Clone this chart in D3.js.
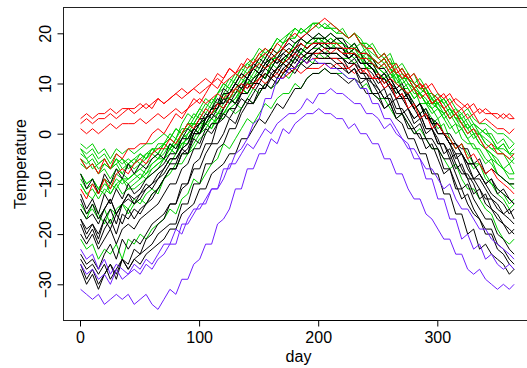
<!DOCTYPE html>
<html><head><meta charset="utf-8">
<script src="https://cdn.jsdelivr.net/npm/d3@7"></script>
<style>body{margin:0;background:#fff}svg{display:block}text{font-family:"Liberation Sans",Arial,Helvetica,sans-serif}</style>
</head><body><svg id="c" width="527" height="368"></svg>
<script>
// day grid (every 5 days, plus last day)
const days = d3.range(0.5, 361, 5).concat([364.5]);
const xTicks = [0, 100, 200, 300];
const yTicks = [-30, -20, -10, 0, 10, 20];
const regionColors = {Atlantic: "#00cd00", Continental: "#000000", Pacific: "#ff0000", Arctic: "#6f1fff"};

// Atlantic
const stJohns = [-3,-4,-3,-5,-4,-6,-4,-5,-6,-5, -4,-5,-3,-4,-2,-3,-2,0,-1,-1, 1,2,1,3,3,5,4,5,7,6, 8,10,9,10,12,11,13,14,15,14, 16,15,16,16,15,15,14,15,13,13, 12,11,12,10,9,9,7,8,6,6, 5,4,5,3,3,1,2,1,0,0, -2,-1,-3,-2];
const halifax = [-4,-5,-7,-6,-5,-7,-6,-5,-7,-6, -4,-5,-3,-4,-2,-1,-2,0,1,2, 2,3,5,4,6,7,9,8,10,11, 12,11,14,13,15,16,17,16,18,18, 19,18,19,18,18,17,18,16,17,15, 14,15,13,12,11,12,10,9,8,8, 6,7,5,4,3,4,2,1,0,-1, -3,-2,-4,-4];
const sydney = [-3,-5,-4,-6,-5,-7,-6,-8,-6,-7, -6,-5,-4,-5,-3,-3,-1,-2,-1,1, 0,1,3,2,4,5,6,5,7,9, 8,10,11,13,12,14,15,14,16,17, 17,18,17,17,16,17,16,15,15,14, 13,14,12,11,9,10,8,8,6,7, 5,4,5,3,2,3,1,0,1,-1, -3,-2,-4,-3];
const yarmouth = [-2,-3,-2,-4,-3,-5,-3,-4,-3,-4, -3,-2,-2,-1,0,-1,1,0,2,2, 4,3,5,6,5,7,8,9,8,10, 11,12,11,13,14,13,15,16,15,16, 17,16,17,17,17,16,17,16,15,15, 14,13,14,12,11,11,9,10,8,8, 7,6,7,5,4,5,3,2,2,1, 0,0,-1,-2];
const charlottetown = [-5,-7,-6,-8,-7,-9,-7,-8,-9,-8, -7,-8,-6,-5,-5,-3,-4,-2,-1,1, 0,2,3,4,4,6,7,9,8,10, 12,11,13,15,14,16,17,18,17,18, 19,18,19,18,18,17,18,16,16,15, 14,15,13,12,10,11,9,8,7,5, 6,5,3,4,2,1,-1,0,-2,-3, -4,-4,-6,-5];
const fredericton = [-8,-10,-9,-11,-9,-12,-10,-9,-10,-9, -8,-9,-7,-6,-5,-4,-2,-3,0,1, 3,2,4,5,8,7,9,10,12,11, 13,15,14,16,17,16,18,19,18,19, 20,19,20,19,19,18,17,18,16,15, 14,15,13,11,12,10,9,8,6,7, 5,3,4,2,1,-1,0,-2,-3,-4, -6,-7,-6,-8];
const scheffervll = [-21,-23,-22,-25,-23,-24,-22,-25,-21,-22, -20,-21,-19,-18,-17,-15,-16,-13,-12,-9, -10,-8,-6,-5,-2,-3,-1,1,3,2, 4,6,5,7,8,8,10,9,11,12, 12,13,12,12,12,11,11,9,10,8, 7,7,5,3,4,2,0,1,-1,-3, -3,-5,-7,-6,-9,-11,-11,-13,-15,-16, -19,-21,-22,-21];
const arvida = [-14,-16,-15,-17,-15,-18,-15,-14,-16,-14, -13,-14,-12,-11,-9,-8,-6,-6,-4,-3, -1,0,2,3,4,6,7,9,8,10, 12,11,13,15,14,15,17,16,17,18, 18,17,18,17,17,16,16,15,13,14, 12,11,10,8,9,7,5,6,4,2, 3,0,-1,-3,-2,-4,-6,-6,-8,-10, -11,-12,-14,-13];
const bagottville = [-15,-17,-14,-16,-18,-15,-16,-14,-15,-13, -14,-12,-11,-12,-9,-7,-7,-4,-4,-2, 0,2,1,4,5,7,6,9,10,10, 12,11,14,15,14,16,17,18,17,18, 19,18,17,18,17,16,15,16,13,13, 12,10,11,9,7,8,6,4,5,3, 1,2,-1,-3,-2,-5,-7,-6,-9,-10, -12,-13,-15,-14];
const quebec = [-10,-12,-11,-13,-11,-12,-10,-12,-11,-11, -10,-9,-8,-7,-5,-6,-4,-2,-2,0, 2,2,4,5,7,7,9,11,10,12, 14,13,15,16,17,16,18,19,18,19, 19,19,18,19,18,17,17,15,16,14, 13,12,13,10,11,9,7,8,6,4, 5,3,1,2,-1,-2,-2,-4,-6,-5, -8,-9,-10,-10];
const sherbrooke = [-10,-12,-13,-11,-12,-10,-11,-9,-11,-10, -9,-8,-7,-6,-5,-3,-4,-1,0,2, 1,3,5,5,7,9,8,10,11,13, 12,14,15,15,17,16,18,19,18,19, 18,19,18,18,17,16,17,16,14,15, 13,12,11,12,9,8,9,6,6,5, 3,4,2,0,1,-1,-3,-3,-5,-6, -8,-9,-10,-11];
const montreal = [-8,-10,-9,-11,-9,-10,-8,-9,-9,-8, -7,-6,-5,-4,-2,-3,-1,1,1,3, 5,4,6,8,10,9,11,13,12,14, 16,15,17,19,18,19,21,20,21,22, 22,21,21,20,20,19,20,18,17,16, 15,14,15,12,13,11,9,10,8,6, 7,5,3,4,2,0,1,-1,-3,-4, -5,-7,-8,-8];
const ottawa = [-9,-11,-10,-12,-10,-11,-9,-10,-9,-8, -9,-7,-6,-5,-4,-2,-3,0,2,2, 4,6,5,8,9,11,10,12,14,13, 15,17,16,18,19,20,19,21,20,22, 22,21,22,21,20,19,20,18,18,17, 15,16,14,12,13,11,10,8,9,6, 6,4,5,3,1,2,0,-2,-3,-5, -6,-7,-9,-9];
const toronto = [-5,-6,-5,-7,-6,-7,-5,-6,-5,-6, -5,-4,-3,-3,-2,-1,1,0,2,4, 3,5,7,6,8,10,12,11,13,15, 14,16,17,16,18,19,19,21,20,21, 22,21,21,21,20,19,20,19,17,18, 16,15,16,13,14,12,10,11,9,7, 8,6,4,5,3,1,2,0,-1,-2, -3,-3,-4,-5];
const london = [-6,-7,-6,-8,-6,-7,-5,-7,-6,-5, -6,-4,-4,-2,-2,0,-1,2,4,3, 5,7,6,8,10,9,11,13,14,15, 17,16,17,19,18,20,21,20,21,22, 21,22,21,20,21,19,20,18,18,17, 15,16,14,14,12,11,12,9,9,7, 6,7,5,3,4,2,0,0,-2,-3, -3,-4,-5,-6];
// Continental
const thunderBay = [-13,-16,-14,-17,-15,-13,-16,-14,-12,-13, -12,-11,-10,-8,-7,-5,-5,-3,-2,1, 0,2,4,3,5,7,6,8,10,9, 11,13,12,13,15,14,16,17,16,17, 18,17,17,17,16,15,16,14,14,13, 11,12,10,8,9,7,5,6,4,2, 2,0,-2,-2,-4,-6,-6,-8,-10,-9, -12,-11,-13,-14];
const winnipeg = [-17,-19,-18,-20,-17,-19,-16,-18,-15,-17, -15,-14,-12,-11,-9,-7,-7,-4,-4,0, 0,3,5,5,8,8,10,12,11,14, 13,15,17,16,17,19,18,19,20,19, 20,19,20,19,19,17,18,16,16,15, 13,13,11,9,10,7,5,6,3,3, 0,0,-2,-5,-4,-7,-9,-9,-11,-13, -14,-16,-15,-17];
const thePas = [-20,-22,-20,-23,-21,-19,-22,-19,-18,-19, -17,-16,-15,-14,-12,-10,-10,-7,-6,-3, -3,0,2,2,5,7,6,8,11,10, 12,14,13,15,16,15,17,18,17,18, 18,18,17,17,17,15,16,14,14,13, 11,11,9,7,8,5,3,4,1,1, -2,-2,-4,-7,-6,-9,-12,-11,-14,-15, -17,-18,-20,-19];
const churchill = [-25,-27,-26,-28,-26,-29,-27,-25,-27,-25, -26,-24,-23,-22,-21,-19,-19,-16,-15,-14, -11,-11,-8,-7,-6,-4,-4,-1,-1,1, 3,2,4,6,5,7,9,9,11,12, 12,13,12,12,11,10,11,10,8,8, 7,5,6,3,4,2,0,0,-3,-2, -5,-8,-7,-10,-13,-12,-15,-17,-19,-19, -22,-23,-25,-26];
const regina = [-15,-17,-16,-18,-15,-13,-16,-14,-12,-14, -13,-11,-10,-9,-7,-5,-5,-3,-2,1, 2,3,5,6,9,8,10,12,11,13, 15,14,16,15,17,18,17,19,18,19, 19,19,18,19,18,16,17,16,14,14, 12,10,11,9,7,7,5,3,4,2, 0,0,-2,-4,-4,-6,-9,-8,-10,-12, -13,-14,-16,-15];
const prAlbert = [-18,-21,-19,-22,-19,-17,-20,-16,-17,-15, -16,-14,-13,-11,-9,-7,-7,-4,-3,0, 0,3,4,6,6,8,10,9,11,13, 12,14,15,14,16,17,16,18,17,18, 18,18,17,17,17,15,16,14,14,13, 11,9,10,7,7,5,3,4,1,1, -1,-4,-3,-6,-8,-8,-10,-13,-12,-15, -16,-18,-19,-20];
const uraniumCity = [-24,-26,-25,-27,-24,-22,-25,-21,-23,-21, -22,-20,-18,-17,-16,-14,-14,-11,-10,-7, -7,-4,-2,-2,0,3,2,5,7,6, 8,10,9,11,13,12,13,15,14,16, 16,16,15,15,15,13,14,13,11,11, 9,7,8,5,5,3,1,2,-1,-1, -3,-5,-5,-8,-11,-10,-13,-15,-17,-17, -20,-21,-23,-24];
const edmonton = [-12,-15,-13,-16,-12,-14,-11,-13,-10,-12, -11,-9,-8,-7,-6,-4,-4,-1,-1,1, 3,3,5,7,6,8,10,9,11,13, 12,13,15,14,15,16,15,17,16,17, 18,17,17,17,16,15,16,14,14,13, 11,12,10,9,7,8,6,4,5,2, 2,0,-2,-2,-4,-6,-6,-8,-10,-9, -11,-12,-13,-14];
const calgary = [-8,-11,-9,-12,-8,-10,-7,-9,-6,-8, -6,-7,-5,-4,-5,-2,-3,-1,1,0, 2,4,3,5,7,6,8,10,9,11, 12,11,13,12,14,15,14,16,15,16, 17,16,16,16,15,14,15,13,13,12, 10,11,9,9,7,8,5,6,3,3, 2,0,0,-2,-3,-3,-6,-5,-8,-7, -8,-9,-10,-10];
// Pacific
const kamloops = [-5,-7,-6,-8,-5,-7,-4,-5,-3,-3, -2,-2,0,1,0,2,4,3,5,7, 6,8,10,9,11,13,12,13,15,14, 16,17,16,18,17,19,20,19,20,21, 22,23,22,21,20,19,20,18,17,17, 15,16,14,12,13,11,9,10,8,6, 7,5,3,4,2,0,1,-1,-3,-2, -4,-4,-5,-4];
const vancouver = [2,3,2,3,3,4,3,4,5,4, 5,6,5,7,6,7,8,9,8,9, 10,11,10,12,11,13,12,14,13,14, 15,16,15,16,17,16,17,18,17,18, 18,18,18,18,17,17,17,16,16,15, 14,15,13,14,12,11,12,10,9,10, 8,7,8,6,5,6,4,5,4,4, 3,4,3,3];
const victoria = [3,4,3,4,4,5,4,5,5,5, 6,5,6,7,6,7,8,7,8,9, 8,9,10,11,10,11,12,11,12,13, 14,13,14,15,14,15,16,15,16,16, 16,17,16,17,16,16,16,15,15,14, 13,14,12,13,11,12,10,9,10,8, 7,8,6,7,6,5,6,4,5,4, 4,3,4,3];
const prGeorge = [-11,-13,-10,-12,-9,-11,-8,-7,-8,-6, -5,-6,-4,-3,-3,-1,-2,0,2,1, 3,5,4,6,5,7,9,8,10,9, 11,12,11,13,12,14,13,15,14,15, 15,15,15,15,14,13,14,12,13,11, 11,9,10,7,8,5,6,3,4,1, 2,0,-1,-3,-2,-5,-4,-6,-8,-7, -9,-10,-11,-12];
const prRupert = [1,0,1,0,1,2,1,2,2,2, 3,2,3,4,3,4,5,4,5,6, 7,6,7,8,7,8,9,10,9,10, 11,10,11,12,11,12,13,12,13,13, 13,14,13,14,13,13,12,13,12,11, 12,10,11,10,9,8,9,7,8,6, 7,5,6,4,5,3,4,2,3,2, 1,1,0,1];
// Continental (north)
const whitehorse = [-17,-20,-18,-21,-17,-15,-18,-14,-13,-14, -12,-10,-11,-9,-8,-6,-6,-3,-4,-1, -2,1,0,2,4,3,5,7,6,8, 10,9,11,10,12,13,12,14,13,14, 14,14,14,13,13,12,13,11,11,10, 8,9,6,7,4,5,2,3,0,1, -2,-2,-5,-4,-7,-9,-9,-11,-13,-13, -15,-16,-17,-18];
const dawson = [-27,-30,-28,-31,-28,-26,-29,-25,-26,-23, -24,-21,-20,-18,-17,-14,-14,-10,-10,-6, -5,-2,-2,2,3,5,5,8,8,10, 10,12,11,13,14,13,15,14,15,16, 15,15,15,14,14,12,13,10,11,8, 8,5,6,3,2,-1,-1,-4,-4,-8, -8,-12,-12,-16,-16,-20,-19,-23,-22,-24, -25,-26,-28,-27];
const yellowknife = [-26,-29,-27,-30,-28,-26,-28,-25,-27,-25, -24,-23,-22,-20,-19,-18,-18,-14,-14,-10, -10,-6,-6,-3,-2,1,1,4,6,6, 9,9,12,11,13,14,13,15,16,16, 17,16,16,16,15,14,14,12,12,10, 9,7,7,4,4,1,1,-1,-1,-3, -3,-7,-7,-11,-11,-14,-16,-17,-20,-20, -23,-24,-26,-27];
// Arctic
const iqaluit = [-23,-25,-24,-27,-25,-28,-26,-27,-28,-26, -27,-25,-26,-24,-22,-22,-19,-20,-17,-15, -15,-13,-11,-11,-9,-6,-6,-4,-2,-3, -1,1,0,2,3,4,4,5,7,6, 8,8,9,8,8,7,6,6,4,4, 3,1,2,0,-1,-3,-3,-5,-7,-7, -9,-11,-10,-13,-15,-15,-17,-19,-19,-21, -22,-23,-24,-25];
const inuvik = [-26,-28,-27,-29,-28,-30,-27,-29,-28,-27, -28,-26,-27,-25,-24,-22,-22,-18,-18,-16, -14,-14,-11,-11,-7,-7,-4,-3,-1,2, 3,7,7,11,11,13,13,15,14,15, 14,14,13,13,12,11,11,9,9,6, 6,3,3,1,-1,-2,-5,-5,-9,-9, -13,-13,-17,-17,-21,-20,-23,-22,-25,-24, -26,-27,-26,-27];
const resolute = [-31,-32,-33,-32,-34,-33,-32,-33,-32,-34, -33,-32,-34,-35,-33,-31,-32,-29,-29,-26, -25,-22,-22,-18,-17,-15,-11,-11,-7,-7, -4,-4,-1,-2,1,0,2,3,4,4, 5,4,4,3,3,1,2,0,0,-2, -2,-5,-5,-8,-8,-11,-13,-13,-16,-17, -19,-21,-21,-24,-24,-27,-28,-27,-29,-30, -31,-30,-31,-30];

const stations = [
  ["Atlantic", stJohns], ["Atlantic", halifax], ["Atlantic", sydney], ["Atlantic", yarmouth],
  ["Atlantic", charlottetown], ["Atlantic", fredericton], ["Atlantic", scheffervll], ["Atlantic", arvida],
  ["Atlantic", bagottville], ["Atlantic", quebec], ["Atlantic", sherbrooke], ["Atlantic", montreal],
  ["Atlantic", ottawa], ["Atlantic", toronto], ["Atlantic", london],
  ["Continental", thunderBay], ["Continental", winnipeg], ["Continental", thePas], ["Continental", churchill],
  ["Continental", regina], ["Continental", prAlbert], ["Continental", uraniumCity], ["Continental", edmonton],
  ["Continental", calgary],
  ["Pacific", kamloops], ["Pacific", vancouver], ["Pacific", victoria], ["Pacific", prGeorge], ["Pacific", prRupert],
  ["Continental", whitehorse], ["Continental", dawson], ["Continental", yellowknife],
  ["Arctic", iqaluit], ["Arctic", inuvik], ["Arctic", resolute]
];
const bad = stations.map((s, i) => [i, s[1].length]).filter(p => p[1] !== days.length);
if (bad.length) throw new Error("length mismatch: " + JSON.stringify(bad));

const svg = d3.select("#c");
const x = d3.scaleLinear().domain([0, 300]).range([80, 437.3]);
const y = d3.scaleLinear().domain([-30, 20]).range([284.3, 33.3]);
const pLeft = 63.5, pTop = 7.5, pBottom = 320.5, pRight = 533.5;

const line = d3.line().x((d, i) => x(days[i])).y(d => y(d));
svg.append("g").selectAll("path").data(stations).join("path")
  .attr("d", d => line(d[1]))
  .attr("fill", "none")
  .attr("stroke", d => regionColors[d[0]])
  .attr("stroke-width", 1)
  .attr("stroke-linejoin", "round");

// box
svg.append("rect").attr("x", pLeft).attr("y", pTop).attr("width", pRight - pLeft).attr("height", pBottom - pTop)
  .attr("fill", "none").attr("stroke", "#222").attr("stroke-width", 1);

// x axis
const xa = svg.append("g").attr("transform", `translate(0,${pBottom})`)
  .call(d3.axisBottom(x).tickValues(xTicks).tickSize(6).tickPadding(5).tickFormat(d3.format("d")));
xa.select(".domain").attr("d", `M${x(0)},0H${x(300)}`).attr("stroke", "#000");
xa.selectAll("line").attr("stroke", "#000");
xa.selectAll("text").attr("font-size", 16).attr("fill", "#000").style("font-family", "'Liberation Sans', Arial, sans-serif");

// y axis
const ya = svg.append("g").attr("transform", `translate(${pLeft},0)`)
  .call(d3.axisLeft(y).tickValues(yTicks).tickSize(6).tickFormat(d => d < 0 ? "\u2212" + Math.abs(d) : d));
ya.select(".domain").attr("d", `M0,${y(-30)}V${y(20)}`).attr("stroke", "#000");
ya.selectAll("line").attr("stroke", "#000");
ya.selectAll("text").attr("x", null).attr("dy", null).attr("y", null)
  .attr("transform", "translate(-13,0) rotate(-90)")
  .attr("text-anchor", "middle").attr("font-size", 16).attr("fill", "#000")
  .style("font-family", "'Liberation Sans', Arial, sans-serif");

// titles
svg.append("text").attr("x", (pLeft + pRight) / 2).attr("y", 362).attr("text-anchor", "middle")
  .attr("font-size", 16).text("day");
svg.append("text").attr("transform", `translate(26,${(pTop + pBottom) / 2}) rotate(-90)`)
  .attr("text-anchor", "middle").attr("font-size", 16).text("Temperature");
</script></body></html>
